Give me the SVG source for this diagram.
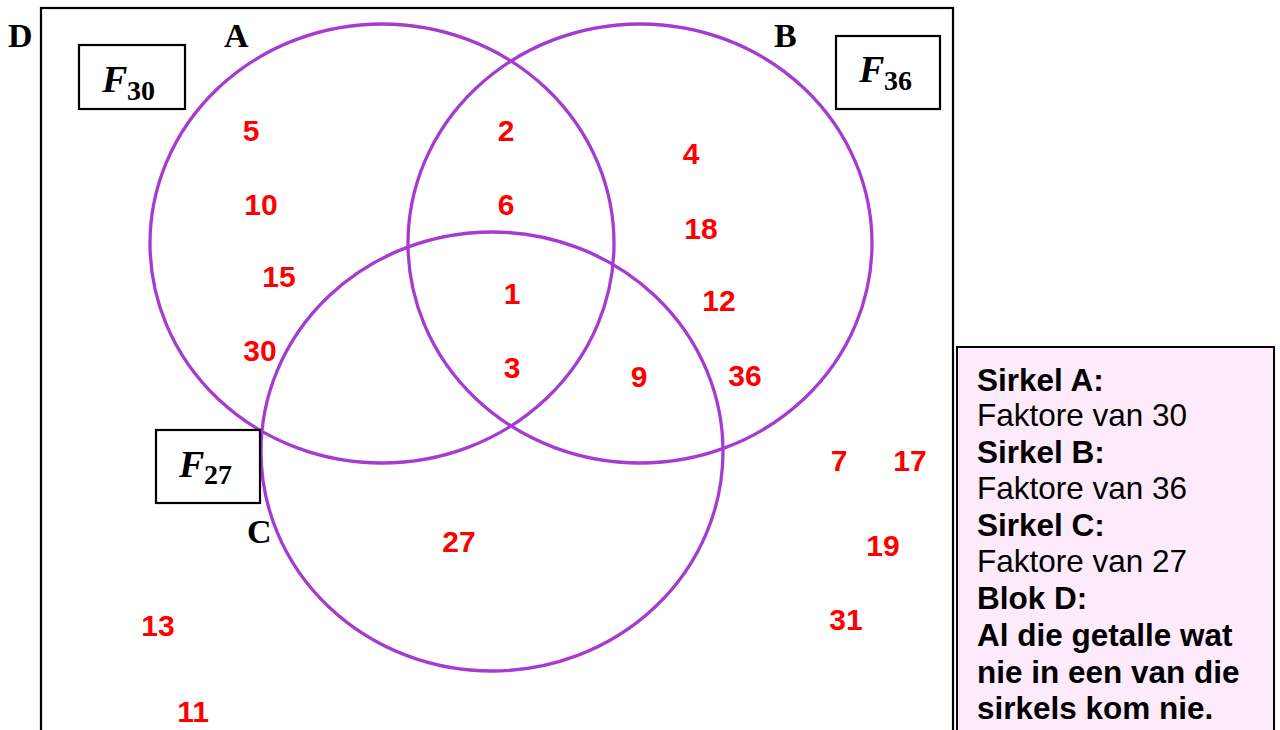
<svg xmlns="http://www.w3.org/2000/svg" width="1280" height="730" viewBox="0 0 1280 730">
<style>
.frame{fill:none;stroke:#000;stroke-width:2.2}
.circ{fill:none;stroke:#A63CCF;stroke-width:3.3}
.num{font-family:"Liberation Sans",Arial,sans-serif;font-weight:bold;font-size:30px;fill:#FF0000;text-anchor:middle}
.let{font-family:"Liberation Serif","Times New Roman",serif;font-weight:bold;font-size:34px;fill:#000}
.fF{font-family:"Liberation Serif","Times New Roman",serif;font-weight:bold;font-style:italic;font-size:38px;fill:#000}
.fs{font-family:"Liberation Serif","Times New Roman",serif;font-weight:bold;font-size:28px;fill:#000}
.lb{font-family:"Liberation Sans",Arial,sans-serif;font-weight:bold;font-size:31.5px;fill:#000}
.lr{font-family:"Liberation Sans",Arial,sans-serif;font-size:31.5px;fill:#000}
</style>
<rect width="1280" height="730" fill="#fff"/>
<g id="blockD">
<rect class="frame" x="41" y="8" width="912" height="740"/>
<text class="let" x="8" y="47">D</text>
</g>
<g id="circleA">
<ellipse class="circ" cx="382" cy="243.5" rx="232" ry="219.5"/>
<text class="let" x="224" y="47">A</text>
</g>
<g id="circleB">
<ellipse class="circ" cx="640" cy="243.5" rx="232" ry="219.5"/>
<text class="let" x="774" y="47">B</text>
</g>
<g id="circleC">
<ellipse class="circ" cx="492" cy="451.5" rx="231" ry="219.5"/>
<text class="let" x="247" y="543">C</text>
</g>
<g id="labelF30">
<rect class="frame" x="79" y="45" width="106" height="64" fill="#fff"/>
<text class="fF" x="102" y="92">F</text><text class="fs" x="127" y="100">30</text>
</g>
<g id="labelF36">
<rect class="frame" x="836" y="36" width="104" height="73" fill="#fff"/>
<text class="fF" x="859" y="82">F</text><text class="fs" x="884" y="90">36</text>
</g>
<g id="labelF27">
<rect class="frame" x="156" y="430" width="104" height="73" fill="#fff"/>
<text class="fF" x="179" y="477">F</text><text class="fs" x="204" y="484">27</text>
</g>
<g id="numbers">
<text class="num" x="251" y="141">5</text>
<text class="num" x="261" y="215">10</text>
<text class="num" x="279" y="287">15</text>
<text class="num" x="260" y="361">30</text>
<text class="num" x="506" y="141">2</text>
<text class="num" x="506" y="215">6</text>
<text class="num" x="512" y="304">1</text>
<text class="num" x="512" y="378">3</text>
<text class="num" x="639" y="387">9</text>
<text class="num" x="691" y="164">4</text>
<text class="num" x="701" y="239">18</text>
<text class="num" x="719" y="311">12</text>
<text class="num" x="745" y="386">36</text>
<text class="num" x="459" y="552">27</text>
<text class="num" x="839" y="471">7</text>
<text class="num" x="910" y="471">17</text>
<text class="num" x="883" y="556">19</text>
<text class="num" x="846" y="630">31</text>
<text class="num" x="158" y="636">13</text>
<text class="num" x="193" y="722">11</text>
</g>
<g id="legend">
<rect x="957" y="347" width="317" height="400" fill="#FDEAFA" stroke="#000" stroke-width="2"/>
<text class="lb" x="977" y="391">Sirkel A:</text>
<text class="lr" x="977" y="426">Faktore van 30</text>
<text class="lb" x="977" y="463">Sirkel B:</text>
<text class="lr" x="977" y="499">Faktore van 36</text>
<text class="lb" x="977" y="536">Sirkel C:</text>
<text class="lr" x="977" y="572">Faktore van 27</text>
<text class="lb" x="977" y="609">Blok D:</text>
<text class="lb" x="977" y="646">Al die getalle wat</text>
<text class="lb" x="977" y="683">nie in een van die</text>
<text class="lb" x="977" y="719">sirkels kom nie.</text>
</g>
</svg>
